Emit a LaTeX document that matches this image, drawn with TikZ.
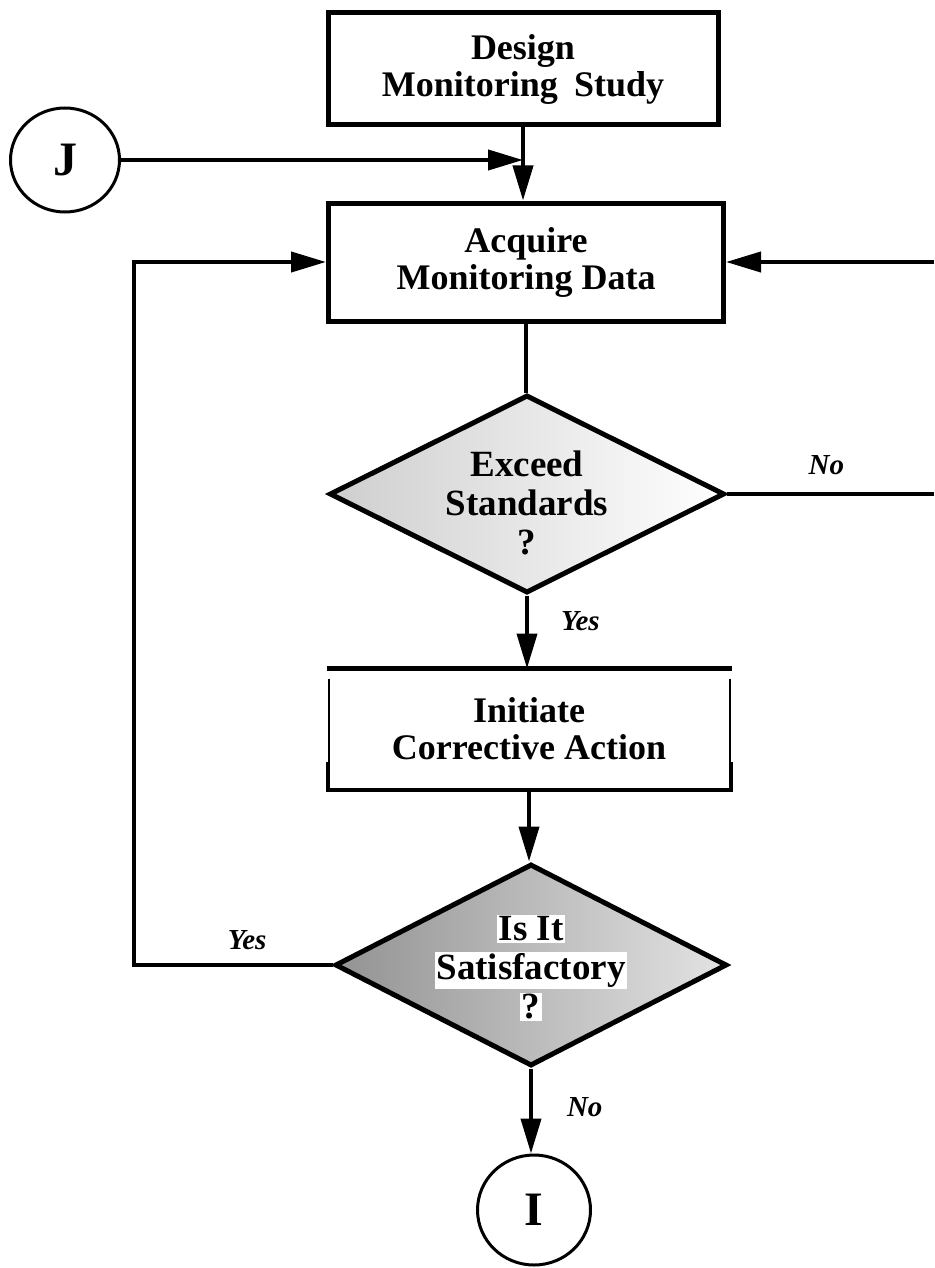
\documentclass[tikz,border=0pt]{standalone}
\usepackage{fontspec}
\setmainfont{Liberation Serif}
\usetikzlibrary{shapes.geometric,arrows.meta}
\setlength\fboxsep{1.5pt}
\begin{document}
\begin{tikzpicture}[x=1pt,y=-1pt,
  boxnode/.style={draw, line width=5pt, align=center, inner sep=0pt,
    font=\fontsize{36}{37}\selectfont\bfseries},
  decnode/.style={diamond, draw, line width=5pt, inner sep=0pt},
  dectext/.style={align=center, inner sep=0pt, font=\fontsize{37}{39}\selectfont\bfseries},
  conn/.style={ellipse, draw, line width=3pt, inner sep=0pt,
    font=\fontsize{48}{48}\selectfont\bfseries},
  flow/.style={line width=4pt, -{Triangle[length=35pt,width=20pt]}},
  plain/.style={line width=4pt},
  lbl/.style={font=\fontsize{29}{29}\selectfont\bfseries\itshape, inner sep=0pt}
]
\useasboundingbox (0,0) rectangle (934,1268);

% boxes
\node[boxnode, minimum width=390pt, minimum height=112pt] (design) at (523,69)
  {Design\\Monitoring\hspace{0.45em}Study};
\node[boxnode, minimum width=395pt, minimum height=118pt] (acq) at (526,262)
  {Acquire\\Monitoring Data};
\node[boxnode, draw=none, minimum width=396pt, minimum height=116pt] (init) at (529,729)
  {Initiate\\Corrective Action};

% decisions
\node[decnode, minimum width=395pt, minimum height=198pt,
      left color=gray!38, right color=white] (d1) at (527,494) {};
\node[dectext] (d1t) at (527,503) {Exceed\\Standards\\?};
\node[decnode, minimum width=392pt, minimum height=202pt,
      left color=gray!85, right color=gray!22] (d2) at (531,965) {};
\node[dectext] (d2t) at (531,968)
  {\colorbox{white}{Is It}\\\colorbox{white}{Satisfactory}\\\colorbox{white}{?}};

% off-page connectors
\node[conn, minimum width=109pt, minimum height=104pt] (J) at (65,160) {J};
\node[conn, minimum width=113pt, minimum height=110pt] (I) at (534,1210) {I};

% open-sided box for corrective action
\draw[line width=5pt] ([xshift=-2pt]init.north west) -- ([xshift=2pt]init.north east);
\draw[line width=2pt] ([yshift=-10pt]init.north west) -- (init.south west);
\draw[line width=2pt] ([yshift=-10pt]init.north east) -- (init.south east);
\draw[line width=4pt] ([xshift=-1pt,yshift=28pt]init.south west) -- ([xshift=-1pt]init.south west)
  -- ([xshift=1pt]init.south east) -- ([xshift=1pt,yshift=28pt]init.south east);

% helper coordinates
\coordinate (jm) at (design.south |- J.east);
\coordinate (lx) at (134,0);
\coordinate (rx) at (934,0);

% connectors
\draw[flow] (design.south) -- (design.south |- acq.north);
\draw[flow] (J.east) -- (jm);
\draw[plain] (acq.south) -- (acq.south |- d1.north);
\draw[flow] (d1.south) -- node[lbl, pos=0.35, right=32pt] {Yes} (d1.south |- init.north);
\draw[flow] (init.south) -- (init.south |- d2.north);
\draw[flow] (d2.south) -- node[lbl, pos=0.45, right=34pt] {No} (d2.south |- I.north);
\draw[flow] (d2.west) -- node[lbl, above=13pt, pos=0.43] {Yes} (d2.west -| lx)
  -- (acq.west -| lx) -- (acq.west);
\draw[plain] (d1.east) -- node[lbl, above=17pt, pos=0.48] {No} (d1.east -| rx);
\draw[flow] (acq.east -| rx) -- (acq.east);
\end{tikzpicture}
\end{document}
